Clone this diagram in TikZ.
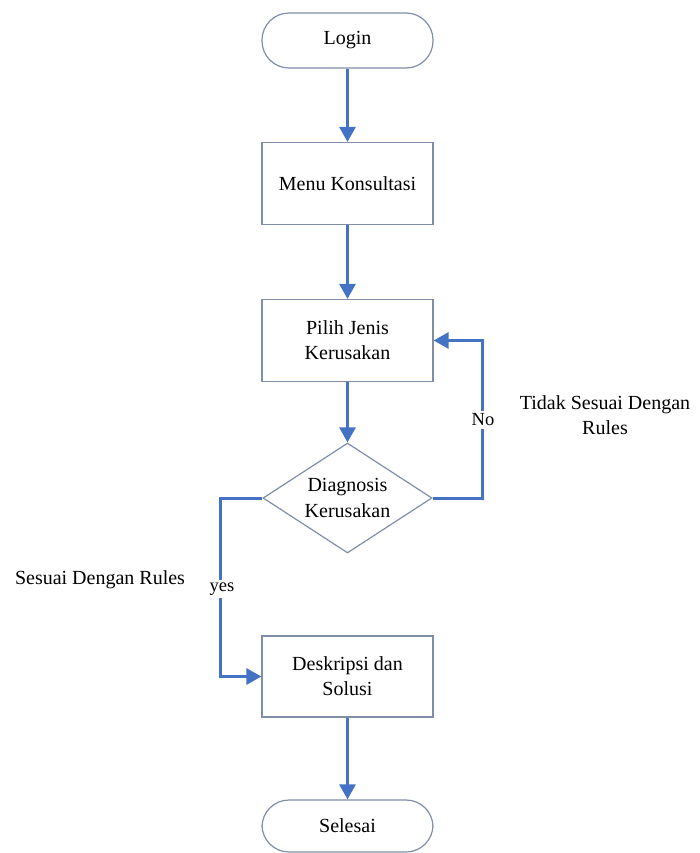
\documentclass[tikz,border=0pt]{standalone}
\usepackage{fontspec}
\setmainfont{Liberation Serif}
\usetikzlibrary{arrows.meta,shapes.geometric}
\definecolor{boxline}{RGB}{128,142,168}
\definecolor{flowblue}{RGB}{68,114,196}
\tikzset{
  boxbase/.style={draw=boxline, line width=1.2pt, fill=white, align=center,
    font=\fontsize{20pt}{25pt}\selectfont, inner sep=0pt},
  procbox/.style={boxbase, rectangle, minimum width=171pt, minimum height=82pt},
  termbox/.style={boxbase, rectangle, rounded corners=27pt, minimum width=171pt},
  decbox/.style={boxbase, diamond, minimum width=169pt, minimum height=110pt},
  arr/.style={draw=flowblue, line width=3pt,
    -{Triangle[width=16pt,length=15pt]}},
  flowlabel/.style={fill=white, inner xsep=2pt, inner ysep=3pt, font=\fontsize{18.5pt}{20pt}\selectfont},
  sidetext/.style={align=center, font=\fontsize{20pt}{25pt}\selectfont}
}
\begin{document}
\begin{tikzpicture}[x=1pt,y=-1pt]
\path[use as bounding box] (0,0) rectangle (699,853);
\node[termbox, minimum height=55pt] (login) at (347.5,40.5) {Login};
\node[procbox] (menu) at (347.5,183.5) {Menu Konsultasi};
\node[procbox] (pilih) at (347.5,340.5) {Pilih Jenis\\Kerusakan};
\node[decbox] (diag) at (347.5,498) {};
\node[align=center, font=\fontsize{20pt}{26pt}\selectfont] (diagtext) at (diag) {Diagnosis\\Kerusakan};
\node[procbox, minimum height=81pt] (desk) at (347.5,676.5) {Deskripsi dan\\Solusi};
\node[termbox, minimum height=52pt] (selesai) at (347.5,826) {Selesai};

\draw[arr] (login) -- (menu);
\draw[arr] (menu) -- (pilih);
\draw[arr] (pilih) -- (diag);
\draw[arr] (desk) -- (selesai);

\coordinate (noturn) at (482,498);
\draw[arr] (diag.east) -- (noturn) |- (pilih.east);
\coordinate (yesturn) at (220,498);
\draw[arr] (diag.west) -- (yesturn) |- (desk.west);

\node[flowlabel] (nolabel) at (483,420) {No};
\node[flowlabel] (yeslabel) at (222,589) {yes};
\node[sidetext] (tidak) at (605,415.5) {Tidak Sesuai Dengan\\Rules};
\node[sidetext] (sesuai) at (100,580) {Sesuai Dengan Rules};
\end{tikzpicture}
\end{document}
